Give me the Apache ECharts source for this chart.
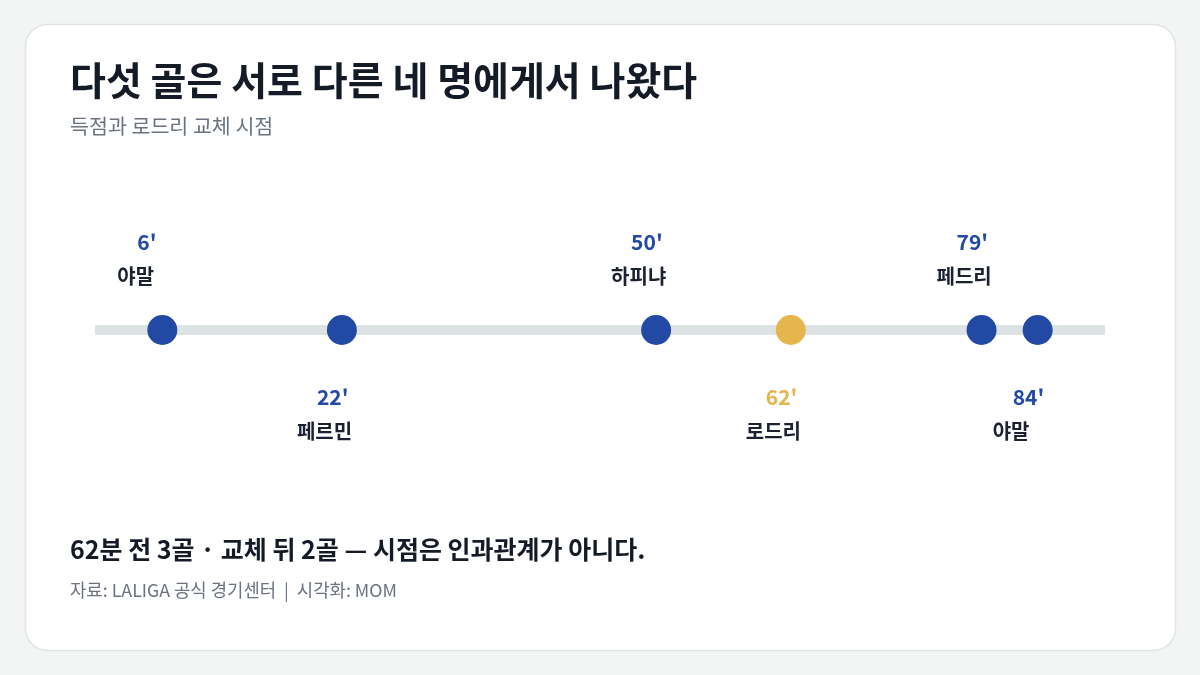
<!DOCTYPE html>
<html><head><meta charset="utf-8">
<script src="https://cdn.jsdelivr.net/npm/echarts@6/dist/echarts.min.js"></script>
<style>html,body{margin:0;padding:0;background:#f3f5f4}#c{width:1200px;height:675px}</style>
</head><body><div id="c"></div>
<script>
const minutes = [6, 22, 50, 62, 79, 84];
const players = ['야말', '페르민', '하피냐', '로드리', '페드리', '야말'];
const kinds = ['goal', 'goal', 'goal', 'sub', 'goal', 'goal'];
const trackRange = [0, 90];

const FONT = '"Noto Sans CJK KR", "Noto Sans", sans-serif';
const BLUE = '#2249a3', GOLD = '#e5b64e';

const points = minutes.map((m, i) => {
  const above = i % 2 === 0;
  const col = kinds[i] === 'sub' ? GOLD : BLUE;
  return {
    value: [m, 0],
    itemStyle: { color: col, opacity: 1 },
    label: {
      show: true,
      position: [-30, above ? -56 : 99],
      align: 'left',
      verticalAlign: 'middle',
      formatter: '{m|' + m + "'}\n{n|" + players[i] + '}',
      rich: {
        m: { fontFamily: FONT, fontSize: 21, fontWeight: 'bold', color: col, lineHeight: 34, padding: [0, 0, 0, 20] },
        n: { fontFamily: FONT, fontSize: 20, fontWeight: 'bold', color: '#1b2130', lineHeight: 34 }
      }
    }
  };
});

const chart = echarts.init(document.getElementById('c'));
chart.setOption({
  backgroundColor: '#f3f5f4',
  animation: false,
  graphic: [
    { type: 'rect', z: -10, shape: { x: 25.5, y: 24.5, width: 1150, height: 626, r: 22 },
      style: { fill: '#ffffff', stroke: '#dfe5e4', lineWidth: 1.5 } },
    { type: 'text', z: 10, style: { x: 70, y: 80, text: '다섯 골은 서로 다른 네 명에게서 나왔다', font: 'bold 39px ' + FONT, fill: '#151b26', verticalAlign: 'middle' } },
    { type: 'text', z: 10, style: { x: 70, y: 126, text: '득점과 로드리 교체 시점', font: '20.6px ' + FONT, fill: '#6b7380', verticalAlign: 'middle' } },
    { type: 'text', z: 10, style: { x: 70, y: 549, text: '62분 전 3골 · 교체 뒤 2골 — 시점은 인과관계가 아니다.', font: 'bold 25px ' + FONT, fill: '#151b26', verticalAlign: 'middle' } },
    { type: 'text', z: 10, style: { x: 70, y: 590, text: '자료: LALIGA 공식 경기센터  |  시각화: MOM', font: '17.8px ' + FONT, fill: '#6b7380', verticalAlign: 'middle' } }
  ],
  grid: { left: 95, right: 95, top: 230, bottom: 245 },
  xAxis: { type: 'value', min: trackRange[0], max: trackRange[1], show: false },
  yAxis: { type: 'value', min: -1, max: 1, show: false },
  series: [
    { type: 'line', data: trackRange.map(v => [v, 0]), symbol: 'none', silent: true, z: 1,
      lineStyle: { color: '#dde3e4', width: 10, cap: 'butt' } },
    { type: 'scatter', data: points, symbolSize: 30, z: 3, itemStyle: { opacity: 1 } }
  ]
});
</script></body></html>
